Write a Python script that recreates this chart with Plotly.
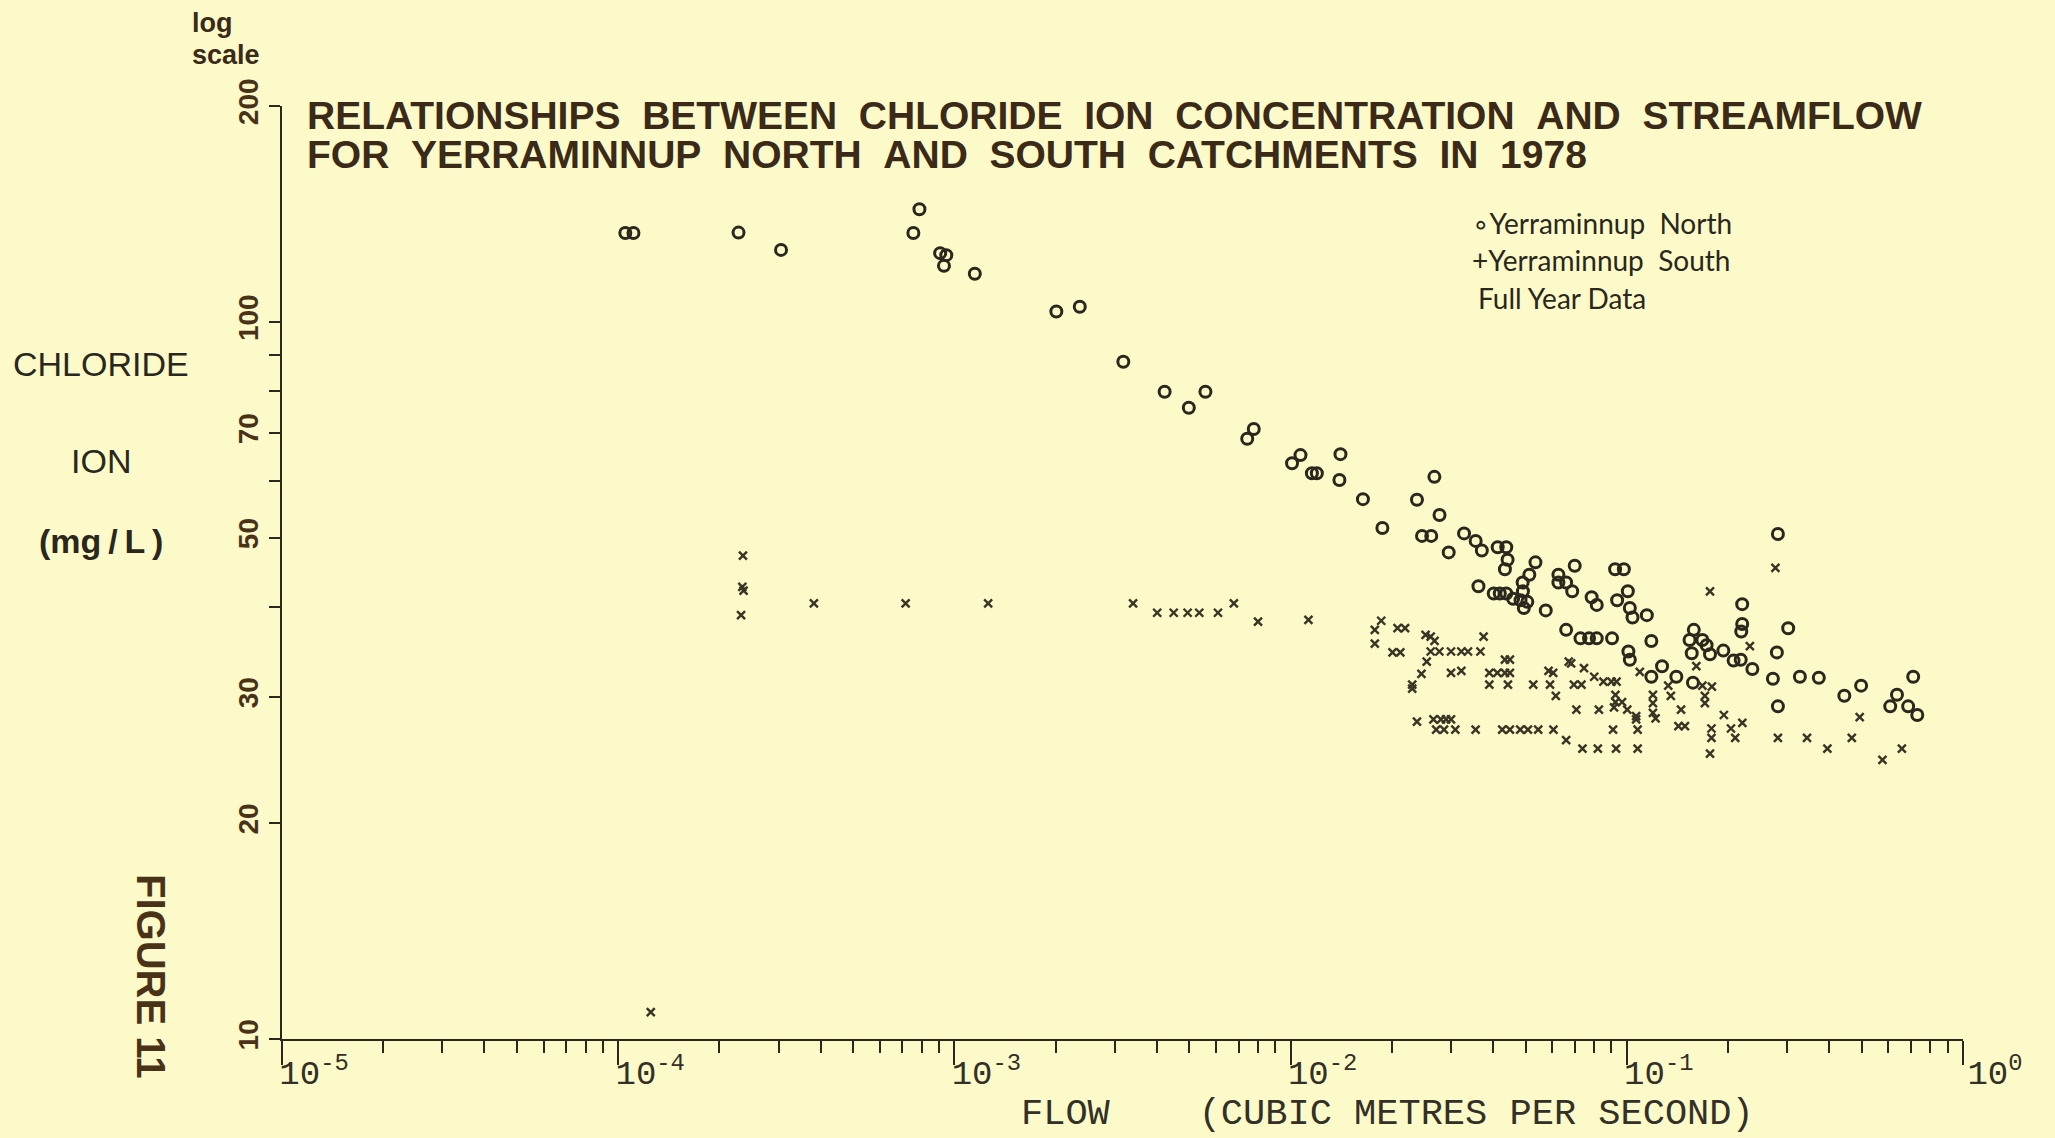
import numpy as np
import plotly.graph_objects as go

# ---------------- data ----------------
north_flow = [1.05e-4, 1.11e-4, 2.28e-4, 3.05e-4, 7.87e-4, 7.55e-4, 9.07e-4, 9.46e-4, 9.31e-4,
              1.15e-3, 2.01e-3, 2.36e-3, 3.18e-3, 4.22e-3, 4.98e-3, 5.58e-3, 7.43e-3, 7.77e-3,
              0.0101, 0.0107, 0.01157, 0.01197, 0.01407, 0.01397, 0.01641, 0.02376, 0.02677,
              0.02773, 0.01875, 0.0246, 0.0262, 0.02953, 0.0328, 0.03552, 0.03705, 0.0413,
              0.0438, 0.0442, 0.0434, 0.0535, 0.0513, 0.049, 0.0362, 0.0402, 0.0419, 0.0438,
              0.0459, 0.0483, 0.0491, 0.0506, 0.0494, 0.0574, 0.0626, 0.070, 0.0626, 0.066,
              0.0688, 0.0786, 0.0814, 0.0923, 0.098, 0.1007, 0.0936, 0.1021, 0.104, 0.1147,
              0.066, 0.0728, 0.0772, 0.0814, 0.0904, 0.1183, 0.1011, 0.1021, 0.1273, 0.1183,
              0.1404, 0.156, 0.1582, 0.1537, 0.1678, 0.1727, 0.1768, 0.1937, 0.2078, 0.2182,
              0.2363, 0.2204, 0.2204, 0.219, 0.302, 0.2815, 0.2795, 0.272, 0.2815, 0.3272,
              0.3725, 0.1573, 0.4436, 0.4977, 0.6075, 0.6363, 0.6868, 0.7311, 0.711]
north_cl = [133, 133, 133.2, 126, 143.6, 133, 124.7, 123.9, 119.7,
            116.7, 103.4, 105, 88.0, 79.9, 75.9, 79.9, 68.7, 70.9,
            63.5, 65.2, 61.5, 61.5, 65.4, 60.2, 56.6, 56.5, 60.8,
            53.8, 51.6, 50.3, 50.3, 47.7, 50.7, 49.5, 48.0, 48.5,
            48.5, 46.6, 45.2, 46.2, 44.4, 43.3, 42.8, 41.8, 41.8, 41.8,
            41.1, 40.9, 42.1, 40.7, 39.9, 39.6, 44.4, 45.7, 43.3, 43.3,
            42.1, 41.3, 40.3, 45.2, 45.2, 42.1, 40.9, 39.9, 38.7, 39.0,
            37.2, 36.2, 36.2, 36.2, 36.2, 35.9, 34.7, 33.8, 33.1, 32.0,
            32.0, 34.5, 37.2, 36.0, 36.0, 35.4, 34.4, 34.8, 33.7, 33.8,
            32.8, 40.4, 37.9, 37.0, 37.4, 50.6, 34.6, 31.8, 29.1, 32.0,
            31.9, 31.4, 30.1, 31.1, 29.1, 30.2, 29.1, 28.3, 32.0]

south_flow = [2.35e-4, 2.34e-4, 2.36e-4, 2.32e-4, 3.82e-4, 7.16e-4, 1.26e-3, 3.40e-3, 4.01e-3,
              4.49e-3, 4.94e-3, 5.35e-3, 6.08e-3, 6.78e-3, 8.0e-3, 1.25e-4, 0.0113,
              0.0186, 0.0178, 0.0178, 0.0208, 0.0219, 0.0201, 0.0212, 0.0252, 0.0261, 0.0268,
              0.0261, 0.0277, 0.030, 0.0322, 0.0337, 0.0367, 0.0375, 0.0254, 0.0245, 0.030,
              0.0322, 0.023, 0.023, 0.039, 0.0412, 0.0434, 0.0449, 0.0434, 0.0449, 0.039,
              0.0443, 0.0527, 0.0591, 0.0585, 0.0604, 0.0615, 0.0672, 0.0683, 0.0746, 0.0696,
              0.0733, 0.080, 0.0852, 0.090, 0.0932, 0.0925, 0.0925, 0.0968, 0.0708, 0.0826,
              0.0916, 0.1003, 0.1066, 0.1066, 0.1196, 0.1196, 0.1196, 0.1218, 0.1328, 0.1352,
              0.145, 0.161, 0.1678, 0.1791, 0.1707, 0.1707, 0.1768, 0.2323, 0.2767, 0.1424,
              0.1489, 0.1786, 0.1786, 0.1944, 0.2041, 0.2206, 0.2101, 0.1768, 0.2815, 0.3436,
              0.395, 0.467, 0.4929, 0.576, 0.658, 0.02376, 0.0266, 0.028, 0.029, 0.030,
              0.0271, 0.0286, 0.0309, 0.0355, 0.0426, 0.0449, 0.0482, 0.0508, 0.0545, 0.0605,
              0.066, 0.0738, 0.082, 0.0929, 0.1077, 0.091, 0.1077, 0.1093]
south_cl = [47.2, 42.7, 42.2, 39.0, 40.5, 40.5, 40.5, 40.5, 39.3,
            39.3, 39.3, 39.3, 39.3, 40.5, 38.2, 10.9, 38.4,
            38.3, 37.2, 35.6, 37.4, 37.4, 34.6, 34.6, 36.6, 36.4, 35.9,
            34.7, 34.7, 34.7, 34.7, 34.7, 34.7, 36.4, 33.6, 32.3, 32.4,
            32.6, 31.2, 30.8, 32.4, 32.4, 32.4, 32.4, 33.8, 33.8, 31.2,
            31.2, 31.2, 31.2, 32.6, 32.4, 30.1, 33.6, 33.4, 32.9, 31.2,
            31.2, 32.0, 31.5, 31.5, 31.5, 30.2, 29.5, 29.5, 28.8, 28.8,
            29.0, 28.8, 27.9, 28.2, 30.2, 29.4, 28.5, 28.0, 31.1, 30.1,
            28.8, 33.1, 31.1, 31.0, 30.1, 29.4, 42.1, 35.3, 45.4, 27.3,
            27.3, 27.1, 26.3, 28.3, 27.1, 27.6, 26.3, 25.0, 26.3, 26.3,
            25.4, 26.3, 28.1, 24.5, 25.4, 27.7, 27.9, 27.9, 27.9, 27.9,
            27.0, 27.0, 27.0, 27.0, 27.0, 27.0, 27.0, 27.0, 27.0, 27.0,
            26.1, 25.4, 25.4, 25.4, 25.4, 27.0, 27.0, 32.5]

x_major = [1e-5, 1e-4, 1e-3, 1e-2, 1e-1, 1e0]
x_major_text = ["10<sup>-5</sup>", "10<sup>-4</sup>", "10<sup>-3</sup>",
                "10<sup>-2</sup>", "10<sup>-1</sup>", "10<sup>0</sup>"]
x_minor = [m * d for d in x_major[:-1] for m in range(2, 10)]
y_ticks = [10, 20, 30, 40, 50, 60, 70, 80, 90, 100, 200]
y_tick_text = ["10", "20", "30", "", "50", "", "70", "", "", "100", "200"]

# ---------------- style ----------------
W, H = 2055, 1138
L, R, T, B = 282, 92, 106, 99
BG = "#FCFAC9"
INK = "#2a271d"
BROWN = "#3b2a17"
PW, PH = W - L - R, H - T - B


def px(x, y):
    return (x - L) / PW, (H - B - y) / PH


fig = go.Figure()
fig.add_trace(go.Scatter(
    x=north_flow, y=north_cl, mode="markers", name="Yerraminnup North",
    marker=dict(symbol="circle-open", size=11, color=INK, line=dict(width=3, color=INK))))
fig.add_trace(go.Scatter(
    x=south_flow, y=south_cl, mode="markers", name="Yerraminnup South",
    marker=dict(symbol="x-thin-open", size=8, color="#3a3424", line=dict(width=2.4, color="#3a3424"))))

ann = []


def add(text, x, y, size, family, color=INK, xanchor="center", yanchor="middle", angle=0):
    ax, ay = px(x, y)
    ann.append(dict(text=text, x=ax, y=ay, xref="paper", yref="paper", showarrow=False,
                    xanchor=xanchor, yanchor=yanchor, textangle=angle,
                    font=dict(size=size, family=family, color=color)))


SANS = "Liberation Sans, Arial, Helvetica"
NB = "\u00a0\u00a0"
add("<b>" + NB.join(["RELATIONSHIPS", "BETWEEN", "CHLORIDE", "ION", "CONCENTRATION", "AND", "STREAMFLOW"]) + "</b>",
    305, 115, 39, SANS, BROWN, xanchor="left")
add("<b>" + NB.join(["FOR", "YERRAMINNUP", "NORTH", "AND", "SOUTH", "CATCHMENTS", "IN", "1978"]) + "</b>",
    305, 154, 39, SANS, BROWN, xanchor="left")
add("<b>log</b>", 190, 23, 27, SANS, BROWN, xanchor="left")
add("<b>scale</b>", 190, 55, 27, SANS, BROWN, xanchor="left")

add("CHLORIDE", 101, 364, 34, SANS, INK)
add("ION", 101, 461, 34, SANS, INK)
add("<b>(mg\u2009/\u2009L\u2009)</b>", 101, 541, 34, SANS, INK)
add("<b>FIGURE\u00a011</b>", 151, 976, 40, SANS, "#4a3219", angle=90)

LEG = "Lato, Noto Sans, DejaVu Sans"
add("\u2218Yerraminnup\u00a0\u00a0North", 1470, 223, 28, LEG, INK, xanchor="left")
add("+Yerraminnup\u00a0\u00a0South", 1470, 260, 28, LEG, INK, xanchor="left")
add("Full\u00a0Year\u00a0Data", 1476, 298, 28, LEG, INK, xanchor="left")

add("FLOW\u00a0\u00a0\u00a0\u00a0(CUBIC\u00a0METRES\u00a0PER\u00a0SECOND)", 1387, 1114, 37,
    "Liberation Mono, DejaVu Sans Mono", "#333027")

fig.update_layout(
    width=W, height=H, autosize=False,
    margin=dict(l=L, r=R, t=T, b=B, pad=0),
    paper_bgcolor=BG, plot_bgcolor=BG,
    showlegend=False,
    annotations=ann,
    xaxis=dict(
        type="log", range=[-5, 0], showgrid=False, zeroline=False,
        showline=True, linecolor=INK, linewidth=2,
        ticks="outside", ticklen=24, tickwidth=2, tickcolor=INK,
        tickmode="array", tickvals=x_major, ticktext=x_major_text,
        tickfont=dict(family="Liberation Mono, DejaVu Sans Mono", size=34, color="#333027"),
        ticklabelshift=32, ticklabelstandoff=-22,
        minor=dict(tickmode="array", tickvals=x_minor, ticks="outside", ticklen=12,
                   tickwidth=2, tickcolor=INK, showgrid=False),
    ),
    yaxis=dict(
        type="log", range=[1, float(np.log10(200))], showgrid=False, zeroline=False,
        showline=True, linecolor=INK, linewidth=2,
        ticks="outside", ticklen=11, tickwidth=2, tickcolor=INK,
        tickmode="array", tickvals=y_ticks, ticktext=y_tick_text, tickangle=-90,
        tickfont=dict(family=SANS, size=28, color="#4a3219", weight="bold"),
    ),
)

fig.write_html("out.html")
